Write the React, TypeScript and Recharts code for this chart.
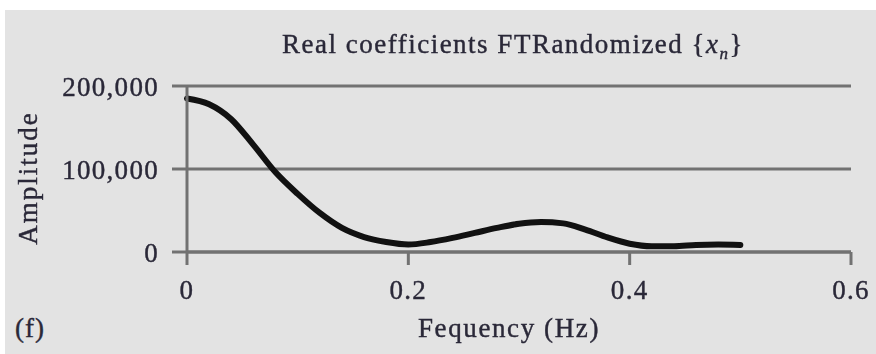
import React from 'react';
import {
  LineChart,
  Line,
  XAxis,
  YAxis,
  CartesianGrid,
  Label,
} from 'recharts';

// frequency bins (Hz) and the real part of the transform at each bin
const frequencies = [
  0, 0.02, 0.04, 0.06, 0.08, 0.1, 0.12, 0.14, 0.16, 0.18, 0.2, 0.22, 0.24,
  0.26, 0.28, 0.3, 0.32, 0.34, 0.36, 0.38, 0.4, 0.42, 0.44, 0.46, 0.48, 0.5,
];
const amplitudes = [
  185000, 178000, 160000, 129000, 96000, 70000, 47000, 29000, 18000, 12000,
  9000, 12000, 17000, 23000, 29000, 34000, 36000, 34500, 27000, 17500, 10000,
  7000, 7000, 8500, 9000, 8500,
];
const xTicks = [0, 0.2, 0.4, 0.6];
const yTicks = [0, 100000, 200000];

const data = frequencies.map((f, i) => ({ f, amp: amplitudes[i] }));

const FONT = '"Liberation Serif", "DejaVu Serif", serif';
const INK = '#2a2838';
const GRID = '#727272';
const textStyle = {
  fill: INK,
  stroke: INK,
  strokeWidth: 0.4,
  fontSize: 27,
  fontFamily: FONT,
  letterSpacing: 1.3,
};

const App: React.FC = () => {
  return (
    <div
      style={{
        position: 'fixed',
        top: 0,
        left: 0,
        width: 876,
        height: 354,
        background: '#ffffff',
        fontFamily: FONT,
      }}
    >
      <div
        style={{
          position: 'absolute',
          left: 5,
          top: 10,
          width: 871,
          height: 344,
          background: '#e3e3e3',
          color: INK,
          WebkitTextStroke: '0.4px ' + INK,
        }}
      >
        <div
          style={{
            position: 'absolute',
            left: 0,
            width: 1016,
            top: 19,
            textAlign: 'center',
            fontSize: 27,
            letterSpacing: 1.5,
            whiteSpace: 'nowrap',
          }}
        >
          Real coefficients FTRandomized {'{'}
          <i>x</i>
          <sub style={{ fontSize: 17 }}>
            <i>n</i>
          </sub>
          {'}'}
        </div>
        <div
          style={{
            position: 'absolute',
            left: 10,
            top: 303,
            fontSize: 27,
            letterSpacing: 1,
          }}
        >
          (f)
        </div>
        <LineChart
          width={871}
          height={344}
          data={data}
          margin={{ top: 76, right: 25, left: 0, bottom: 0 }}
        >
          <CartesianGrid
            horizontal
            vertical={false}
            stroke={GRID}
            strokeWidth={3}
          />
          <XAxis
            dataKey='f'
            type='number'
            domain={[0, 0.6]}
            ticks={xTicks}
            height={102}
            tickSize={13}
            tickMargin={15}
            stroke={GRID}
            strokeWidth={3}
            tick={textStyle}
          >
            <Label
              value='Fequency (Hz)'
              position='insideBottom'
              offset={17}
              dx={-10}
              style={{ ...textStyle, letterSpacing: 1.6 }}
            />
          </XAxis>
          <YAxis
            type='number'
            domain={[0, 200000]}
            ticks={yTicks}
            width={182}
            tickSize={15}
            tickMargin={13}
            stroke={GRID}
            strokeWidth={3}
            tickFormatter={(v: number) => v.toLocaleString('en-US')}
            tick={textStyle}
          >
            <Label
              value='Amplitude'
              angle={-90}
              position='insideLeft'
              offset={22}
              dy={9}
              style={{ ...textStyle, letterSpacing: 2, textAnchor: 'middle' }}
            />
          </YAxis>
          <Line
            type='monotone'
            dataKey='amp'
            stroke='#111111'
            strokeWidth={6}
            strokeLinecap='round'
            dot={false}
            isAnimationActive={false}
          />
        </LineChart>
      </div>
    </div>
  );
};

export default App;
